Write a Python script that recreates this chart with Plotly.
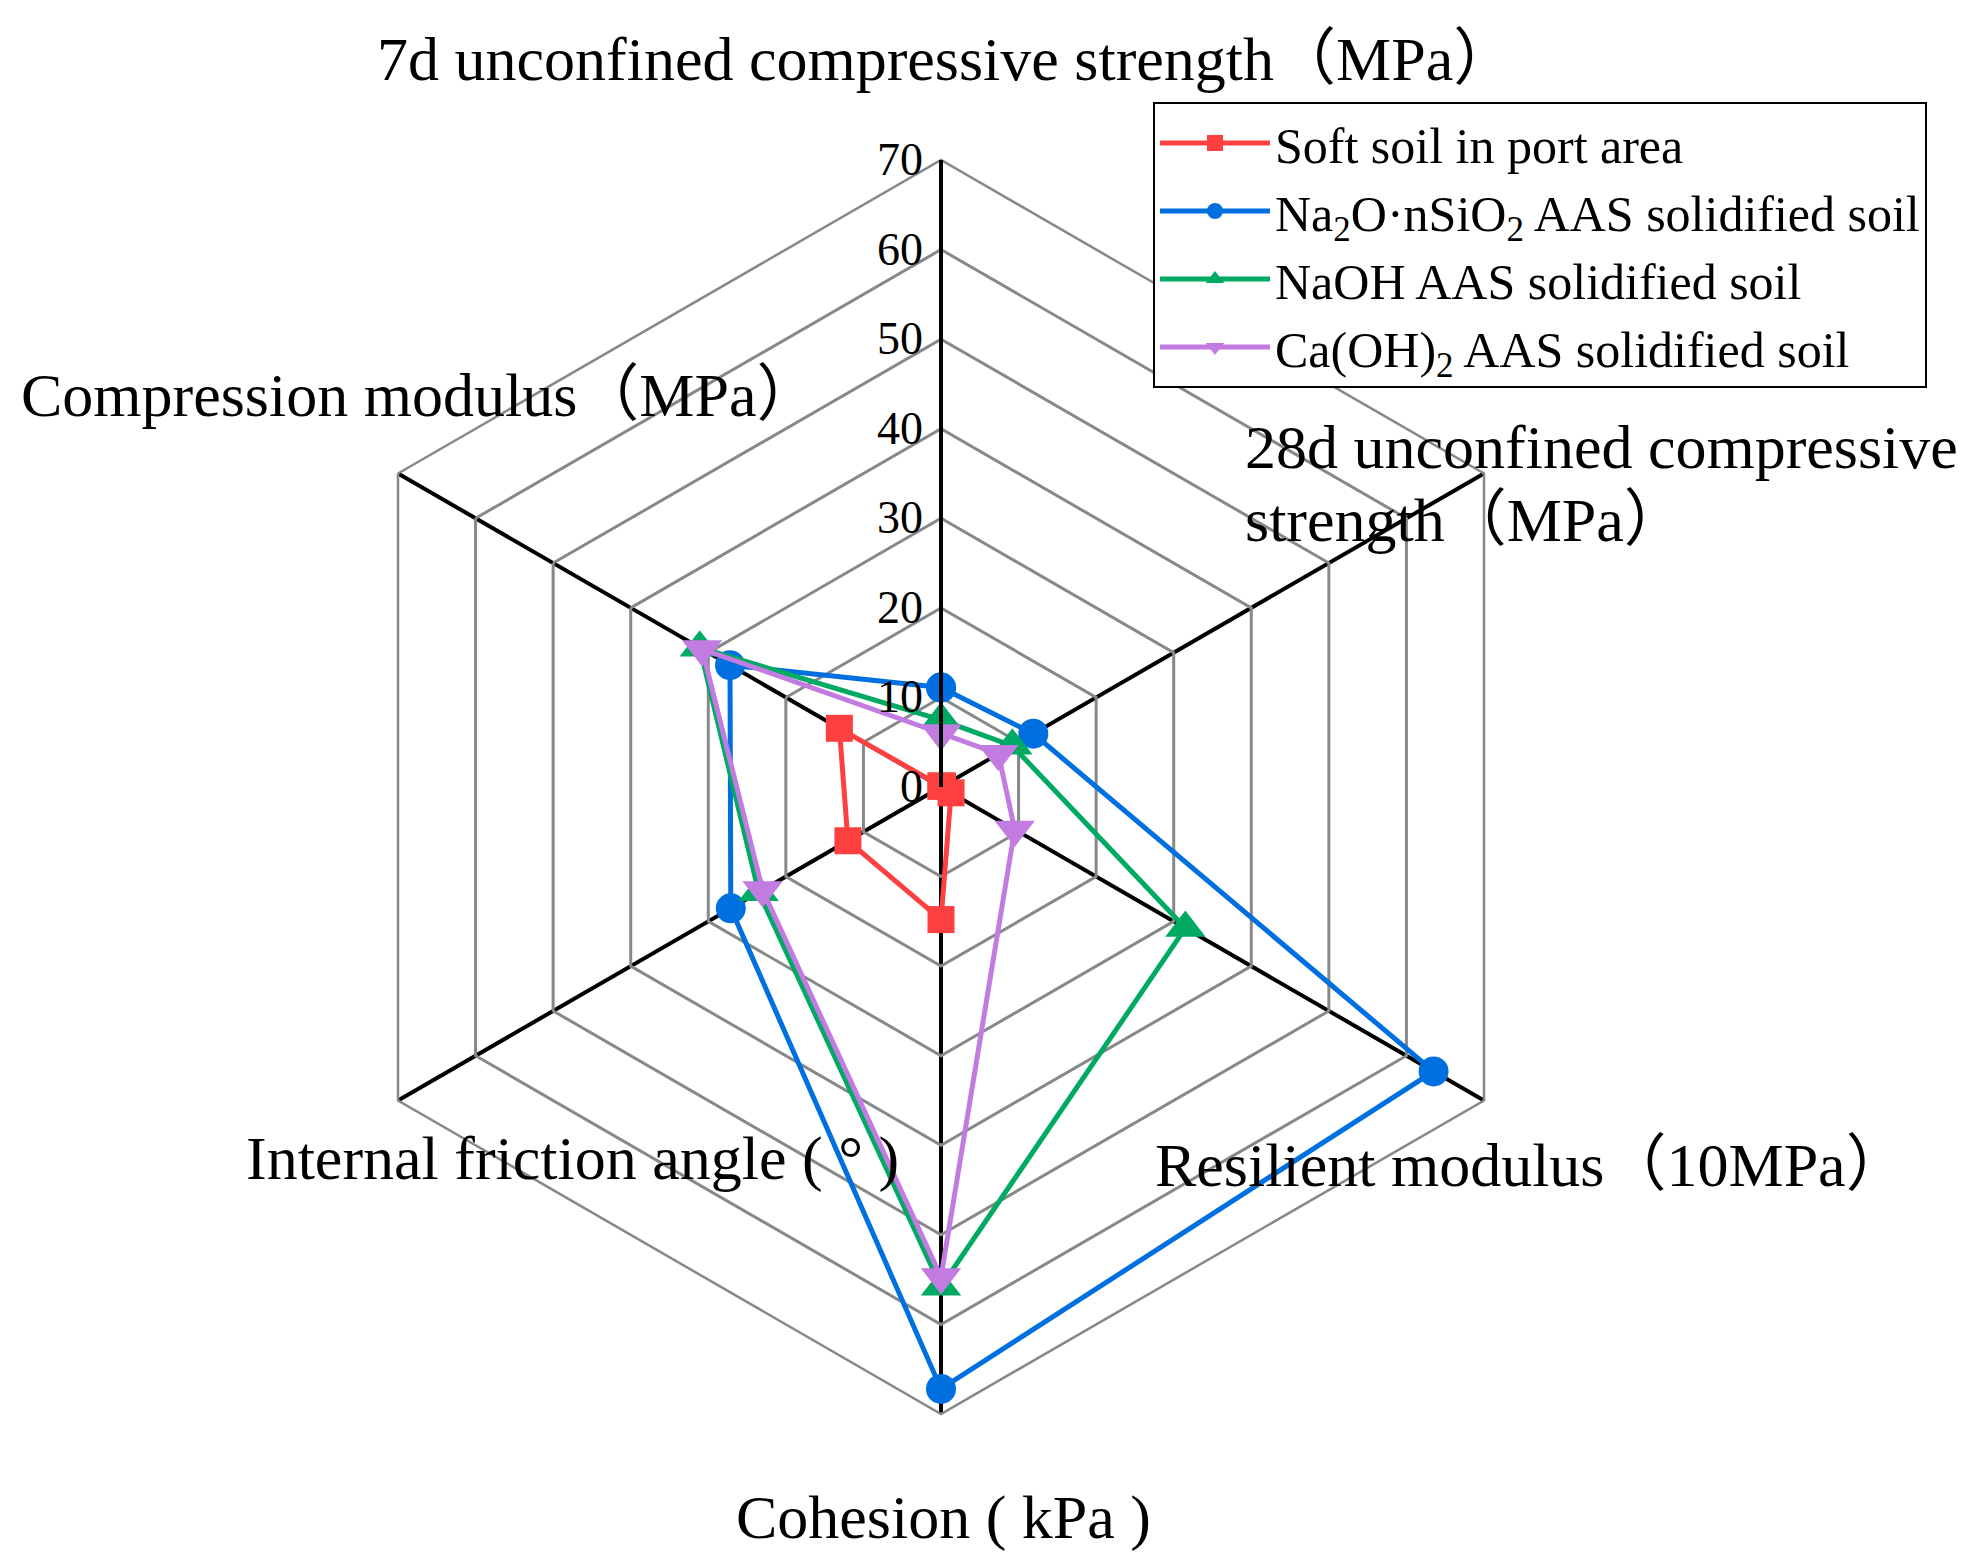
import plotly.graph_objects as go

categories = [
    "7d unconfined compressive strength（MPa）",
    "28d unconfined compressive<br>strength（MPa）",
    "Resilient modulus（10MPa）",
    "Cohesion ( kPa )",
    "Internal friction angle ( ° )",
    "Compression modulus（MPa）",
]
series_names = [
    "Soft soil in port area",
    "Na<sub>2</sub>O·nSiO<sub>2</sub> AAS solidified soil",
    "NaOH AAS solidified soil",
    "Ca(OH)<sub>2</sub> AAS solidified soil",
]
soft_soil = [0.1, 0.2, 1.3, 14.8, 12.0, 13.1]
na2o_sio2 = [11.1, 11.9, 63.5, 67.2, 27.1, 27.2]
naoh = [7.5, 9.2, 31.5, 55.8, 23.5, 31.1]
caoh2 = [6.0, 7.4, 9.5, 54.7, 23.0, 30.8]
radial_ticks = [0, 10, 20, 30, 40, 50, 60, 70]

colors = ["#FF4040", "#006FE0", "#00AA62", "#C27BE0"]
symbols = ["square", "circle", "triangle-up", "triangle-down"]
sizes = [27, 30, 35, 35]
values = [soft_soil, na2o_sio2, naoh, caoh2]

W, H = 1983, 1568
SERIF = "Liberation Serif, Noto Sans CJK SC, serif"

fig = go.Figure()
for name, vals, c, s, sz in zip(series_names, values, colors, symbols, sizes):
    fig.add_trace(go.Scatterpolar(
        r=vals + vals[:1],
        theta=categories + categories[:1],
        mode="lines+markers",
        name=name,
        line=dict(color=c, width=5),
        marker=dict(symbol=s, size=sz, color=c),
    ))

cx, cy, R = 933, 779, 627
fig.update_layout(
    width=W, height=H, autosize=False,
    margin=dict(l=0, r=0, t=0, b=0),
    paper_bgcolor="white",
    font=dict(family=SERIF, color="black"),
    polar=dict(
        domain=dict(x=[(cx - R) / W, (cx + R) / W], y=[(H - cy - R) / H, (H - cy + R) / H]),
        bgcolor="white",
        gridshape="linear",
        radialaxis=dict(
            range=[0, 70], tickvals=radial_ticks, angle=90, side="counterclockwise",
            tickangle=90,
            showline=True, linecolor="black", linewidth=4,
            gridcolor="#888888", gridwidth=2.5, ticks="",
            tickfont=dict(size=46, family=SERIF, color="black"),
        ),
        angularaxis=dict(
            direction="clockwise", rotation=90,
            showticklabels=False, ticks="",
            gridcolor="black", gridwidth=4,
            showline=True, linecolor="#888888", linewidth=2.5,
        ),
    ),
    legend=dict(
        x=1145 / W, y=1 - 94 / H, xanchor="left", yanchor="top",
        bordercolor="black", borderwidth=2, bgcolor="white",
        font=dict(size=50, family=SERIF, color="black"),
        itemwidth=110, tracegroupgap=0,
    ),
)

# category labels placed around the chart
label_pos = [
    (938, 51, "center"),
    (1235, 439, "left"),
    (1145, 1157, "left"),
    (935, 1509, "center"),
    (236, 1150, "left"),
    (11, 387, "left"),
]
for cat, (px, py, xa) in zip(categories, label_pos):
    lines = cat.split("<br>")
    for i, line in enumerate(lines):
        fig.add_annotation(
            text=line, x=px / W, y=1 - (py + i * 73) / H, xref="paper", yref="paper",
            xanchor=xa, yanchor="middle", showarrow=False,
            font=dict(size=62, family=SERIF, color="black"),
        )

fig.write_html("out.html")
